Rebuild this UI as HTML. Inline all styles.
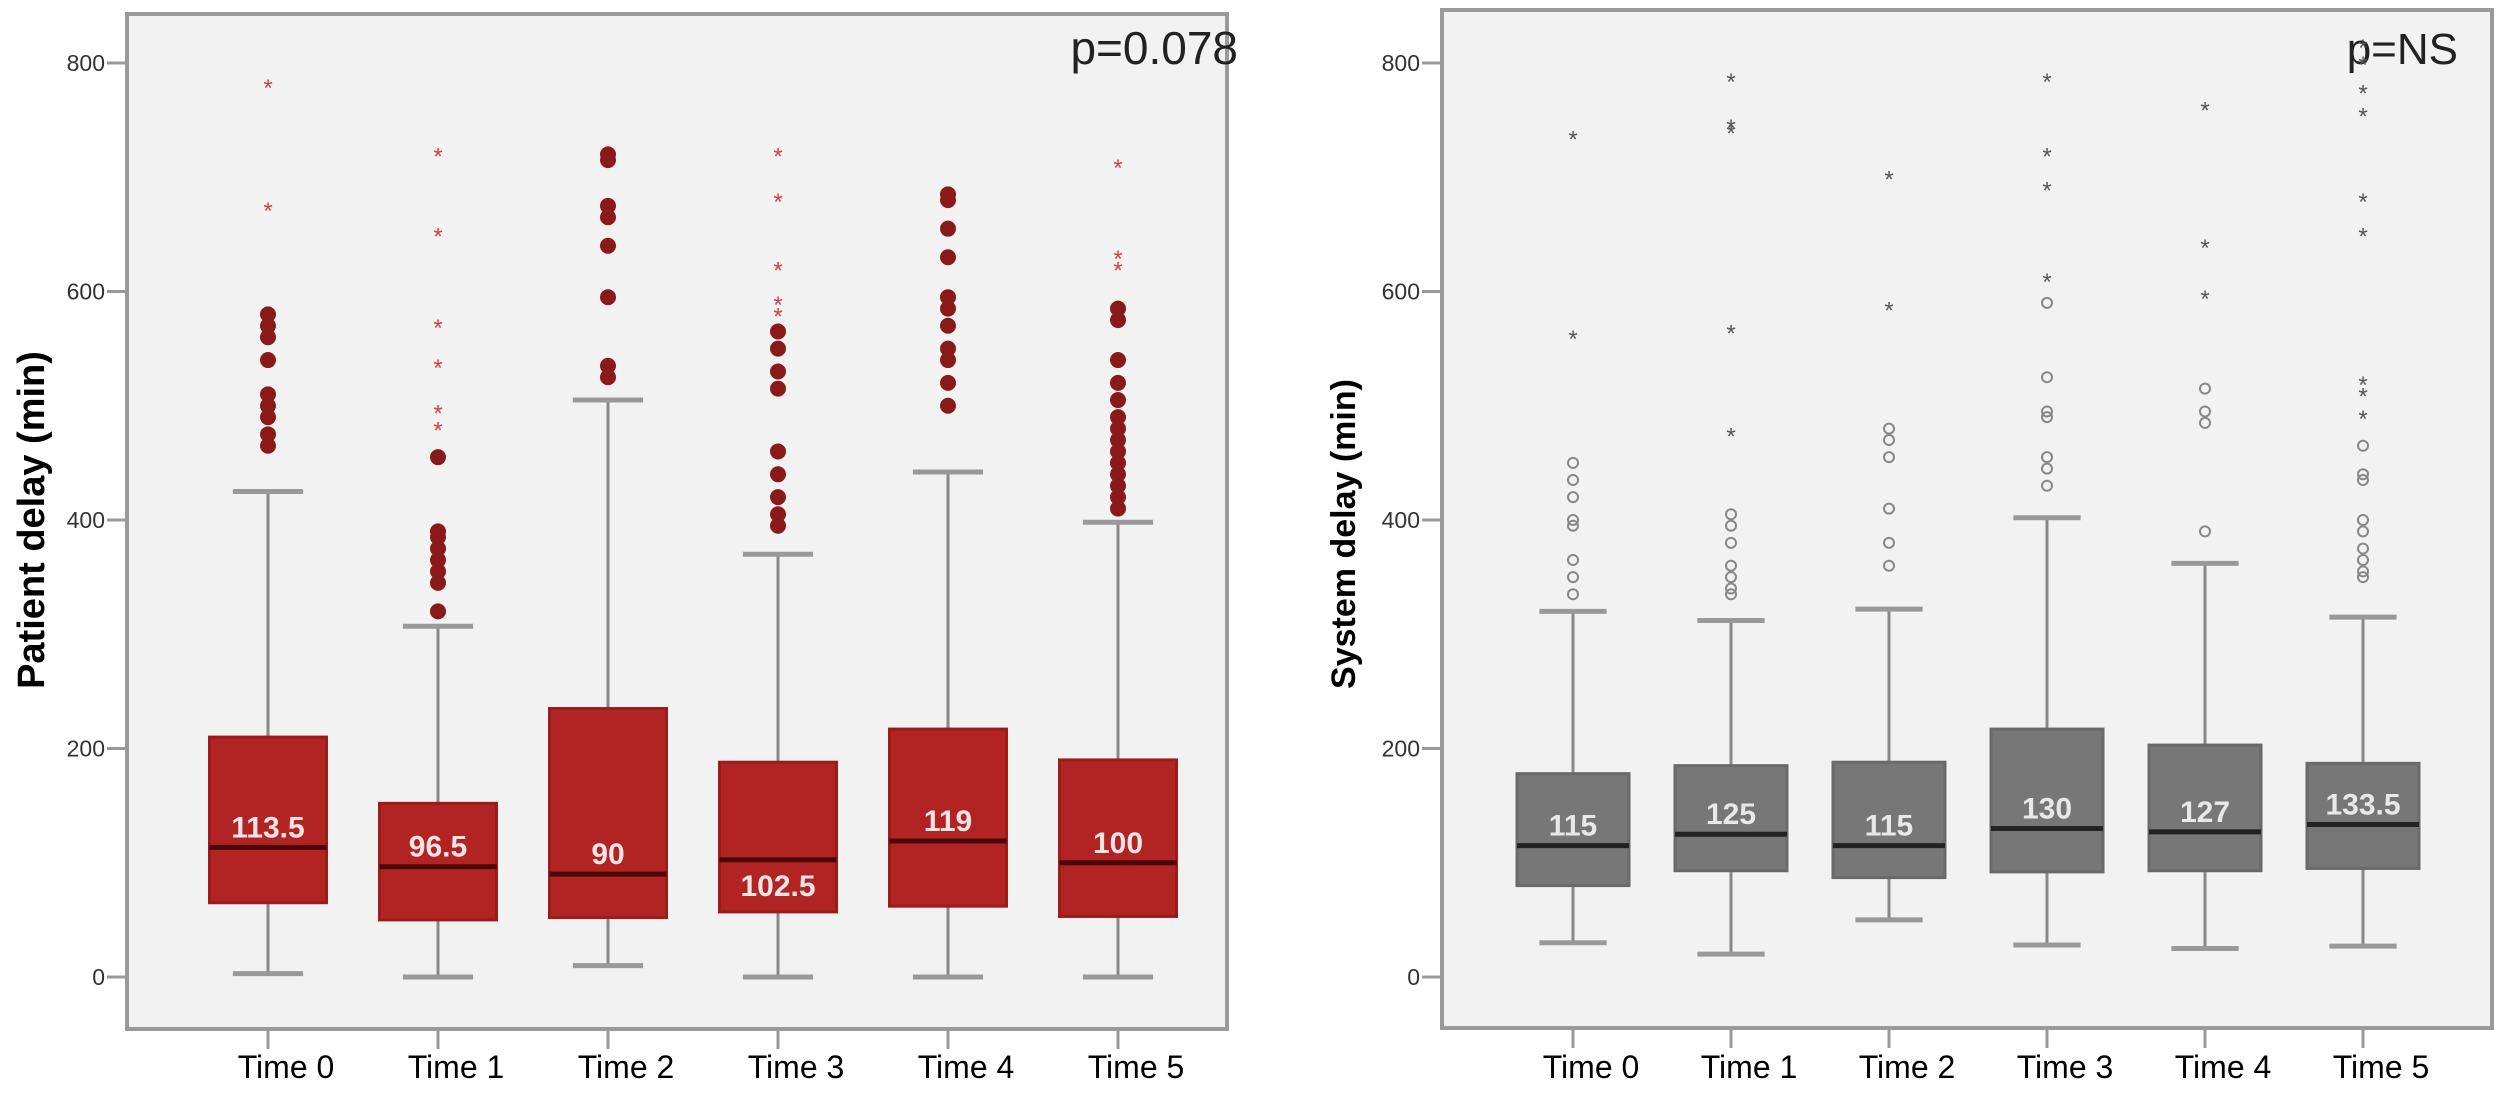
<!DOCTYPE html>
<html><head><meta charset="utf-8"><style>
body{margin:0;background:#fff;width:2500px;height:1098px;overflow:hidden}
svg{display:block}
text{font-family:"Liberation Sans",sans-serif}
</style></head><body>
<svg id="c" width="2500" height="1098" xmlns="http://www.w3.org/2000/svg"></svg>
<script>
const categories=["Time 0","Time 1","Time 2","Time 3","Time 4","Time 5"];
const yTicks=[0,200,400,600,800];
const leftQ1=[65,50,52,57,62,53];
const leftQ3=[210,152,235,188,217,190];
const leftMed=[113.5,96.5,90,102.5,119,100];
const leftMedLabel=["113.5","96.5","90","102.5","119","100"];
const leftLow=[3,0,10,0,0,0];
const leftHigh=[425,307,505,370,442,398];
const leftCircles=[[580,570,560,540,510,500,490,475,465],[455,390,385,375,365,355,345,320],[720,715,675,665,640,595,535,525],[565,550,530,515,460,440,420,405,395],[685,680,655,630,595,585,570,550,540,520,500],[585,575,540,520,505,490,480,470,460,450,440,430,420,410]];
const leftStars=[[780,672],[720,650,570,535,495,480],[],[720,680,620,590,580],[],[710,630,620]];
const rightQ1=[80,93,87,92,93,95];
const rightQ3=[178,185,188,217,203,187];
const rightMed=[115,125,115,130,127,133.5];
const rightMedLabel=["115","125","115","130","127","133.5"];
const rightLow=[30,20,50,28,25,27];
const rightHigh=[320,312,322,402,362,315];
const rightCircles=[[450,435,420,400,395,365,350,335],[405,395,380,360,350,340,335],[480,470,455,410,380,360],[590,525,495,490,455,445,430],[515,495,485,390],[465,440,435,400,390,375,365,355,350]];
const rightStars=[[735,560],[785,745,740,565,475],[700,585],[785,720,690,610],[760,640,595],[815,800,775,755,680,650,520,510,490]];

const svg=document.getElementById('c');
const NS="http://www.w3.org/2000/svg";
function mk(tag,attrs,parent){const e=document.createElementNS(NS,tag);for(const k in attrs)e.setAttribute(k,attrs[k]);(parent||svg).appendChild(e);return e;}
function y(v){return 977-v*(977-63)/800;}

function panel(o){
  const g=mk('g',{});
  
  
  const bg=mk('rect',{x:o.x0,y:o.top,width:o.x1-o.x0,height:o.bottom-o.top,fill:'#f2f2f2',stroke:'#9a9a9a','stroke-width':4},g);
  
  
  yTicks.forEach(t=>{
    const l=mk('line',{x1:o.x0-20,x2:o.x0,y1:y(t),y2:y(t),stroke:'#9a9a9a','stroke-width':3},g);
    
    
    const tx=mk('text',{x:o.x0-22,y:y(t)+8,'text-anchor':'end','font-size':23,fill:'#333'},g);
    tx.textContent=t;
    
    
  });
  const yt=mk('text',{transform:`translate(${o.ytx},${o.yty}) rotate(-90)`,'text-anchor':'middle','font-size':o.ytSize,'font-weight':'bold',fill:'#000'},g);
  yt.textContent=o.ytitle;
  
  
  const pv=mk('text',{x:o.px,y:64,'text-anchor':'end','font-size':o.pSize,fill:'#222'},g);
  pv.textContent=o.ptext;
  
  
  categories.forEach((c,i)=>{
    const cx=o.cx0+i*o.step, hw=o.bw/2, cw=o.bw*0.6;
    const tk=mk('line',{x1:cx,x2:cx,y1:o.bottom,y2:o.bottom+20,stroke:'#9a9a9a','stroke-width':3},g);
    
    
    const lb=mk('text',{x:cx+18,y:1078,'text-anchor':'middle','font-size':32,fill:'#000'},g);
    lb.textContent=c;
    
    
    const wk=mk('line',{x1:cx,x2:cx,y1:y(o.high[i]),y2:y(o.low[i]),stroke:'#888','stroke-width':3},g);
    
    
    [o.high[i],o.low[i]].forEach(v=>{
      const cap=mk('line',{x1:cx-cw/2,x2:cx+cw/2,y1:y(v),y2:y(v),stroke:'#999','stroke-width':5},g);
      
      
    });
    const bx=mk('rect',{x:cx-hw,y:y(o.q3[i]),width:o.bw,height:y(o.q1[i])-y(o.q3[i]),fill:o.fill,stroke:o.stroke,'stroke-width':3},g);
    
    
    const md=mk('line',{x1:cx-hw,x2:cx+hw,y1:y(o.med[i]),y2:y(o.med[i]),stroke:o.medc,'stroke-width':5},g);
    
    
    const below=o.below&&o.below[i];
    const ml=mk('text',{x:cx,y:below?y(o.med[i])+36:y(o.med[i])-10,'text-anchor':'middle','font-size':30,'font-weight':'bold',fill:o.lblc},g);
    ml.textContent=o.mlab[i];
    
    
    o.circles[i].forEach(v=>{
      const p=mk('circle',{cx:cx,cy:y(v),r:o.cr,fill:o.cfill,stroke:o.cstroke,'stroke-width':2},g);
      
      
    });
    o.stars[i].forEach(v=>{
      const s=mk('text',{x:cx,y:y(v)+10,'text-anchor':'middle','font-size':24,fill:o.starc},g);
      s.textContent='*';
      
      
    });
  });
}
panel({name:'patient-delay-panel',x0:127,x1:1227,top:14,bottom:1029,cx0:268,step:170,bw:117,
  q1:leftQ1,q3:leftQ3,med:leftMed,mlab:leftMedLabel,low:leftLow,high:leftHigh,circles:leftCircles,stars:leftStars,
  fill:'#b22424',stroke:'#9c1c1c',medc:'#4a0808',lblc:'#f4e4e4',cr:7,cfill:'#8a1a1a',cstroke:'#8a1a1a',starc:'#d04040',
  below:[0,0,0,1,0,0],ytitle:'Patient delay (min)',ytx:44,yty:520,ytSize:38,px:1238,pSize:46,ptext:'p=0.078'});
panel({name:'system-delay-panel',x0:1442,x1:2492,top:10,bottom:1028,cx0:1573,step:158,bw:112,
  q1:rightQ1,q3:rightQ3,med:rightMed,mlab:rightMedLabel,low:rightLow,high:rightHigh,circles:rightCircles,stars:rightStars,
  fill:'#777',stroke:'#6a6a6a',medc:'#222',lblc:'#e8e8e8',cr:5,cfill:'none',cstroke:'#888',starc:'#555',
  ytitle:'System delay (min)',ytx:1355,yty:534,ytSize:34,px:2458,pSize:44,ptext:'p=NS'});
</script>
</body></html>
